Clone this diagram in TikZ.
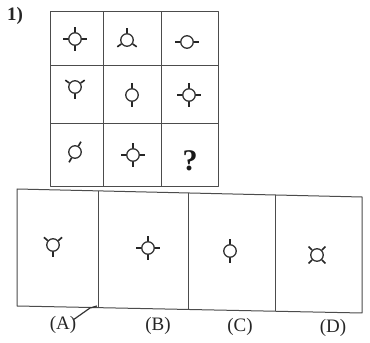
\documentclass[tikz,border=0pt]{standalone}
\usepackage{fontspec}
\setmainfont{Liberation Serif}
\usetikzlibrary{calc}
\begin{document}
\begin{tikzpicture}[x=1pt,y=1pt,line join=round,
  frame/.style={draw=black!70,line width=1.0pt},
  symb/.style={circle,draw=black!80,line width=1.3pt,minimum size=12.5pt,inner sep=0pt},
  tickline/.style={draw=black!85,line width=1.6pt},
  lab/.style={font=\fontsize{19}{22}\selectfont,text=black!85,inner sep=0pt}]
\useasboundingbox[fill=white] (0,0) rectangle (370,343);
% top grid
\draw[frame] (50,156) rectangle (218,331);
\draw[frame] (103,156) -- (103,331) (161,156) -- (161,331)
  (50,277) -- (218,277) (50,219) -- (218,219);
% bottom box
\coordinate (TL) at (17,154);
\coordinate (TR) at (362,146);
\coordinate (BR) at (362,30);
\coordinate (BL) at (17,37);
\draw[frame] (TL) -- (TR) -- (BR) -- (BL) -- cycle;
\foreach \f in {0.235,0.496,0.748}
  \draw[frame] ($(TL)!\f!(TR)$) -- ($(BL)!\f!(BR)$);
% symbols
\foreach \n/\x/\y/\angs in {
  s11/75/304/{0,90,180,270},
  s12/127/303/{90,215,325},
  s13/187/301/{0,180},
  s21/75/256/{270,35,145},
  s22/132/248/{90,270},
  s23/189/248/{0,90,180,270},
  s31/75/191/{60,240},
  s32/133/188/{0,90,180,270},
  oA/53/98/{270,40,140},
  oB/148/95/{0,90,180,270},
  oC/230/92/{90,270},
  oD/317/88/{45,135,225,315}}{
  \node[symb] (\n) at (\x,\y) {};
  \foreach \a in \angs
    \draw[tickline] (\n.\a) -- ++(\a:5);
}
\node[font=\fontsize{30}{32}\selectfont\bfseries,text=black!90,inner sep=0pt] (q) at (190,182) {?};
% labels
\node[lab] (lA) at (63,18) {(A)};
\node[lab] (lB) at (158,17) {(B)};
\node[lab] (lC) at (240,16) {(C)};
\node[lab] (lD) at (333,15) {(D)};
\node[font=\fontsize{19}{21}\selectfont\bfseries,text=black!85,inner sep=0pt] (num) at (15,327) {1)};
% hand mark
\coordinate (m1) at (73,23);
\coordinate (m2) at (90,35);
\coordinate (m3) at (97,37);
\draw[black!80,line width=1.2pt] (m1) -- (m2) -- (m3);
\end{tikzpicture}
\end{document}
